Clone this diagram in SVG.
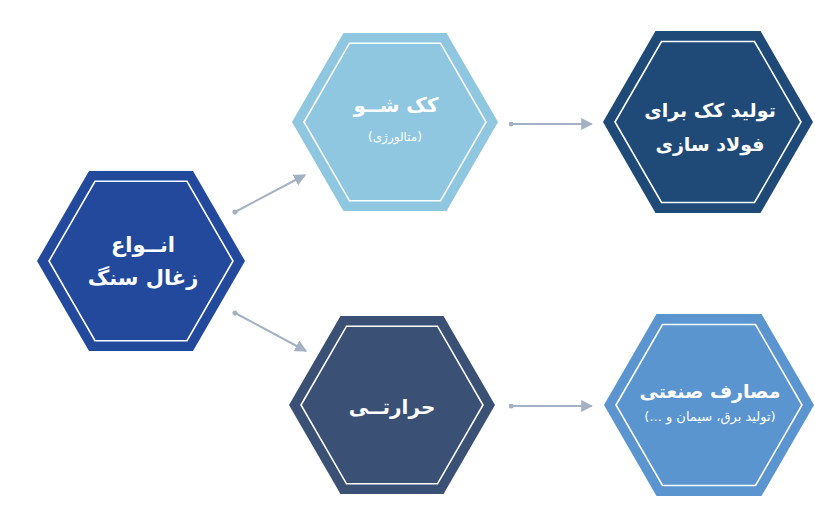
<svg xmlns="http://www.w3.org/2000/svg" width="815" height="513" viewBox="0 0 815 513">
<style>
.inner{fill:none;stroke:#ffffff;stroke-width:1.6}
.t{font-family:"DejaVu Sans","Noto Sans",sans-serif;fill:#ffffff;text-anchor:middle;font-weight:bold;direction:rtl;unicode-bidi:embed}
.s{font-family:"DejaVu Sans","Noto Sans",sans-serif;fill:#ffffff;text-anchor:middle;direction:rtl;unicode-bidi:embed}
.conn{stroke:#a3b1c2;stroke-width:2;fill:none;marker-end:url(#ah);marker-start:url(#dot)}
</style>
<defs>
<marker id="ah" viewBox="0 0 10 10" refX="9" refY="5" markerWidth="6" markerHeight="6" markerUnits="strokeWidth" orient="auto">
<path d="M0,0 L10,5 L0,10 z" fill="#a3b1c2"/>
</marker>
<marker id="dot" viewBox="0 0 10 10" refX="5" refY="5" markerWidth="2.5" markerHeight="2.5" markerUnits="strokeWidth" orient="auto">
<circle cx="5" cy="5" r="5" fill="#a3b1c2"/>
</marker>
</defs>
<rect width="815" height="513" fill="#ffffff"/>
<g id="connectors">
<line class="conn" x1="235" y1="212" x2="305" y2="175"/>
<line class="conn" x1="235" y1="313" x2="306" y2="351"/>
<line class="conn" x1="511" y1="124" x2="592" y2="124"/>
<line class="conn" x1="511" y1="406" x2="592" y2="406"/>
</g>
<g id="node-anva">
<polygon points="37,261 89,171 193,171 245,261 193,351 89,351" fill="#22499b"/>
<polygon class="inner" points="49,261 95,181.3 187,181.3 233,261 187,340.7 95,340.7"/>
<text class="t" x="143" y="252" font-size="21">انــواع</text>
<text class="t" x="143" y="285" font-size="21">زغال سنگ</text>
</g>
<g id="node-kokshow">
<polygon points="292,122 343.5,33 446.5,33 498,122 446.5,211 343.5,211" fill="#8ec7df"/>
<polygon class="inner" points="304,122 349.5,43.2 440.5,43.2 486,122 440.5,200.8 349.5,200.8"/>
<text class="t" x="396" y="112" font-size="20">کک شــو</text>
<text class="s" x="395" y="141" font-size="12">(متالورژی)</text>
</g>
<g id="node-tolid">
<polygon points="603,122 655.5,31 760.5,31 813,122 760.5,213 655.5,213" fill="#1f4a78"/>
<polygon class="inner" points="615,122 661.5,41.5 754.5,41.5 801,122 754.5,202.5 661.5,202.5"/>
<text class="t" x="710" y="117" font-size="19">تولید کک برای</text>
<text class="t" x="710" y="151" font-size="19">فولاد سازی</text>
</g>
<g id="node-harareti">
<polygon points="289,405 340.5,316 443.5,316 495,405 443.5,494 340.5,494" fill="#3a5075"/>
<polygon class="inner" points="301,405 346.5,326.2 437.5,326.2 483,405 437.5,483.8 346.5,483.8"/>
<text class="t" x="392" y="414" font-size="20">حرارتــی</text>
</g>
<g id="node-masaref">
<polygon points="604,405 656.5,314 761.5,314 814,405 761.5,496 656.5,496" fill="#5b95cf"/>
<polygon class="inner" points="616,405 662.5,324.5 755.5,324.5 802,405 755.5,485.5 662.5,485.5"/>
<text class="t" x="710" y="398" font-size="19">مصارف صنعتی</text>
<text class="s" x="710" y="421" font-size="13">(تولید برق، سیمان و ...)</text>
</g>
</svg>
